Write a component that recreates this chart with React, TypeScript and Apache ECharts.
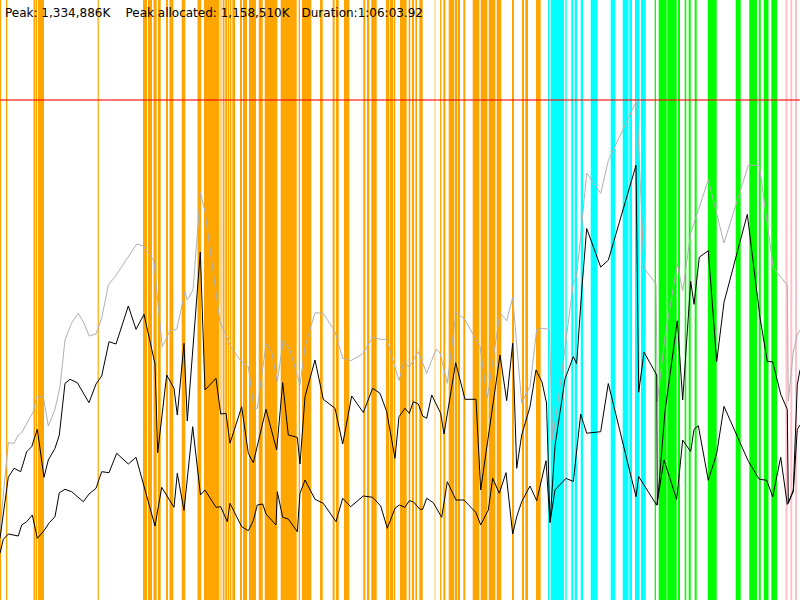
import React, { useEffect, useRef } from "react";
import * as echarts from "echarts";

// x: time units (1 unit = 4.955 s), y: memory units (1 unit = 2,669.77 K)
const X_MAX = 800;
const Y_MAX = 600;
const PEAK_LEVEL = 500;

const headerTexts = [
  "Peak: 1,334,886K",
  "Peak allocated: 1,158,510K",
  "Duration:1:06:03.92",
];

const orangeBands: [number, number][] = [
  [0, 1.2], [6, 7.3], [33.5, 35], [35.5, 37.2], [38, 44], [97.6, 98.8],
  [143, 147], [148, 152], [153.5, 156.7], [158, 160.7], [166, 168], [169.5, 173.3],
  [181.7, 185.3], [197.5, 201.2], [204, 219.3], [220.5, 221.5], [222.7, 224.5],
  [225.2, 227], [227.7, 229.3], [230, 231.3], [232.3, 235], [240, 242], [243, 247],
  [249, 256], [258.7, 262.7], [264.7, 277.3], [280.7, 296.7], [298.7, 300],
  [302, 311.3], [320, 322.7], [332.7, 334.7], [336, 338.7], [344, 349.3],
  [363.3, 365.3], [367, 369.3], [371.3, 376.7], [386, 389], [389.7, 393], [393.7, 395.3],
  [400, 406.7], [408.7, 410.3], [412, 414], [415.3, 417], [419.3, 422.7],
  [434.7, 435.3], [440, 441.3], [443.3, 445.3], [448.7, 454], [454.7, 457], [457.7, 460],
  [463.3, 465.3], [472.7, 479.3], [480.7, 487.3], [488.7, 495.3], [496.7, 501.3],
  [512, 514], [522, 524], [525.3, 528], [536, 540.7],
];

const cyanBands: [number, number][] = [
  [548, 549.3], [550.7, 564], [565.3, 566.7], [571.3, 573.3], [574.7, 577],
  [580.7, 583], [590.7, 597.5], [610.7, 615.3], [622.7, 628.5], [629.3, 632],
  [635, 639.5], [641, 645.7],
];

const greenBands: [number, number][] = [
  [654.7, 656], [658.7, 666.7], [667.3, 676.7], [678, 680], [684.7, 686.3],
  [688.7, 690.7], [694.7, 696.7], [707.8, 716.7], [735.7, 740.7], [749.3, 757],
  [758.8, 760.8], [763.8, 768.5], [771.3, 777],
];

const pinkBands: [number, number][] = [
  [785.5, 787.5], [790.3, 792.3], [795, 797],
];

const heapTotal: [number, number][] = [
  [0, 70], [8.3, 157.3], [14, 156.7], [18.3, 165], [21.7, 167.3], [33.3, 188.3],
  [36.7, 203.3], [43.3, 203.3], [48.3, 174], [55, 190.7], [60, 213.3], [65, 260],
  [71.7, 277.3], [78.3, 286.7], [83.3, 278.3], [89.3, 264], [96, 266], [101.7, 281.7],
  [108.3, 315], [115, 323.3], [136.7, 356], [143.3, 354], [154, 339.3], [158.3, 293.3],
  [162.3, 253.3], [170, 269.3], [176.7, 270.7], [185, 308.3], [187.3, 300], [193, 310],
  [200.5, 407.3], [205, 388.3], [220, 278.3], [230, 255], [240, 240], [248.3, 233.3],
  [254, 191.7], [257.3, 191.7], [266, 256], [271.7, 248.3], [277.3, 218.3], [283.3, 260],
  [290, 250], [300, 215], [305, 253.3], [315, 287.3], [323.3, 286.7], [335, 268.3],
  [342.7, 241.7], [350.7, 239.3], [362.7, 246], [372.7, 262.7], [380.7, 260.7],
  [386.7, 260.7], [399, 219.3], [404, 239], [409.3, 232.7], [418.3, 248.3], [426.7, 226.7],
  [436, 250.7], [440, 247.3], [447.3, 216.7], [456, 287.3], [464, 281.7], [480, 253.3],
  [487.3, 201.7], [500, 287.3], [506.7, 279.3], [512.7, 302.7], [521.7, 197.3],
  [530, 213.3], [536.7, 270.7], [542.7, 271.7], [549.3, 270.7], [552.7, 160],
  [560, 213.3], [573.3, 316.8], [576.7, 324.5], [581.7, 374.2], [586.7, 427],
  [600.7, 406.7], [608.3, 439.3], [636.7, 499.7], [644, 332.1], [656, 316],
  [657.3, 198.2], [665, 263.2], [677.3, 336], [682.7, 309.1], [690.7, 366.6],
  [708.3, 420.1], [724, 357], [748.3, 434.7], [759.3, 434.7], [773.3, 332.1],
  [787.3, 314.9], [788.3, 199], [793.3, 248], [797.3, 265.1], [800, 270],
];

const allocatedUpper: [number, number][] = [
  [0, 61.7], [8.3, 122.7], [14, 131.7], [20.7, 128.3], [26.7, 148.3], [31.7, 153.3],
  [37.3, 170.7], [44, 122.7], [48.3, 140], [55, 151.7], [59.3, 165], [65, 216.7],
  [70, 220.7], [77.3, 217.3], [89, 197.3], [96, 216], [101.7, 224], [109, 258.3],
  [116, 256], [128.3, 294], [136, 270.7], [144, 285.7], [155, 236], [157.7, 147.3],
  [166.7, 225], [174, 211.7], [177.3, 185], [184, 256.7], [187.3, 179], [200.3, 348],
  [205, 210], [216, 221.7], [220.7, 186], [226, 186.7], [230, 156.7], [241.7, 193.3],
  [248.3, 146.7], [253.3, 137.3], [266, 190.7], [276.7, 150], [282.7, 217.3],
  [288.3, 165], [297.3, 162.7], [300, 136], [305, 203.3], [315, 240], [323.3, 200.7],
  [335, 191.7], [342.7, 156], [351.7, 204], [363.3, 187.5], [372.7, 211.7],
  [380, 206.7], [386.7, 188.3], [395, 141.7], [399, 183.3], [405, 191.7], [409.3, 186.7],
  [413.3, 198.3], [418.3, 196], [422.7, 184], [426.7, 181.7], [431.7, 205],
  [440.7, 186.7], [444, 166], [455.7, 237.3], [465, 200.7], [476, 200.7], [480.7, 110],
  [500, 245], [506.7, 199.3], [512.7, 256.7], [516.7, 131.7], [521.7, 165],
  [530, 193.3], [536, 230], [542, 218], [546.5, 197], [550, 77.6], [555, 154.2],
  [565, 221.1], [573.3, 243.3], [576.7, 236.4], [581.7, 309.1], [586.7, 371.5],
  [600.7, 332.9], [608.3, 339.8], [636, 434.7], [638.7, 207.7], [644, 247.9],
  [656.7, 225], [657.3, 95], [665, 188.6], [677.3, 279.3], [682.7, 200], [690.7, 318.7],
  [694, 295.7], [699.3, 342.8], [708.3, 349.3], [716.7, 238.3], [724, 297.7],
  [747.3, 385.7], [760, 282.4], [767.3, 238.3], [772.7, 238.3], [780.7, 205.8],
  [787.3, 190.5], [788.3, 96.7], [793.3, 110], [797.3, 215.4], [800, 230],
];

const liveLower: [number, number][] = [
  [0, 46.7], [3.3, 60.7], [8.3, 66], [18.3, 64], [21.7, 75], [26.7, 78.3], [32.3, 85],
  [37.3, 61.7], [44, 69.3], [49.3, 77.3], [55, 83.3], [59.3, 107.3], [65, 110.7],
  [71.7, 108.3], [83.3, 98.3], [89, 106], [96, 111.7], [101.7, 128.3], [109, 127.3],
  [116.7, 146.7], [128.3, 136], [136, 142.7], [155, 74], [161.7, 112.7], [174, 92.7],
  [177.3, 126.7], [184, 89.5], [192.7, 173.3], [200.5, 105], [205, 110], [216, 92.7],
  [220.7, 93.3], [227.3, 78.3], [230, 96.7], [241.7, 73.3], [248.3, 69.3], [253.3, 79.3],
  [257.3, 95], [262.7, 96], [266, 86], [276, 75], [277.3, 108.3], [282.7, 82.7],
  [288.3, 81], [297.3, 68.3], [300, 106.7], [305, 120], [315, 100.7], [323.3, 96.7],
  [336, 78.3], [342.7, 101.7], [350.7, 93.3], [363.3, 104], [372.7, 102.7], [380.7, 94],
  [387.3, 71.7], [395, 91.7], [399.3, 95], [405, 92.7], [409.3, 99.3], [413.3, 98.3],
  [420, 90.7], [422.7, 90.7], [426.7, 101.7], [433.3, 97.3], [441.7, 82.7],
  [447.3, 118.3], [456, 100], [464, 100], [476, 87.3], [480.7, 75], [488.3, 90],
  [492.7, 121.7], [499.3, 106.7], [506, 127.3], [512.7, 66], [516.7, 83.3],
  [521.7, 98.3], [530, 114], [536.7, 99.3], [546, 139.3], [550, 77.6], [555, 110.1],
  [566, 121.6], [573.3, 118.6], [580.7, 185.9], [586.7, 166.8], [600.7, 168.3],
  [608.3, 216.5], [636, 103.3], [638.7, 123.5], [656.7, 94.8], [664, 140],
  [676.7, 100.6], [682.7, 159.9], [690.7, 148.4], [694, 170.6], [698.3, 174.4],
  [708.3, 119.7], [716.7, 146.5], [724, 193.6], [748.3, 138.8], [759.3, 120.8],
  [766.7, 119.7], [772.7, 103.3], [780.7, 142.7], [787.3, 95.6], [793.3, 108.2],
  [797.3, 170.6], [800, 175],
];

function bandSeries(name: string, data: [number, number][], color: string) {
  return {
    name,
    type: "custom",
    silent: true,
    z: 1,
    encode: { x: [0, 1] },
    data,
    renderItem: (_params: any, api: any) => {
      const p0 = api.coord([api.value(0), Y_MAX]);
      const p1 = api.coord([api.value(1), 0]);
      return {
        type: "rect",
        shape: { x: p0[0], y: p0[1], width: p1[0] - p0[0], height: p1[1] - p0[1] },
        style: { fill: color },
      };
    },
  };
}

function lineSeries(name: string, data: [number, number][], color: string, withPeak = false) {
  const s: any = {
    name,
    type: "line",
    data,
    symbol: "none",
    silent: true,
    z: 5,
    lineStyle: { color, width: 1 },
  };
  if (withPeak) {
    s.markLine = {
      silent: true,
      symbol: "none",
      label: { show: false },
      lineStyle: { color: "rgba(255,0,0,0.55)", width: 2, type: "solid" },
      data: [{ yAxis: PEAK_LEVEL }],
    };
  }
  return s;
}

export default function App() {
  const ref = useRef<HTMLDivElement>(null);
  useEffect(() => {
    if (!ref.current) return;
    const chart = echarts.init(ref.current, null, { renderer: "svg" });
    const textX = [5, 125.5, 301.5];
    chart.setOption({
      animation: false,
      backgroundColor: "#ffffff",
      grid: { left: 0, right: 0, top: 0, bottom: 0 },
      xAxis: { type: "value", min: 0, max: X_MAX, show: false },
      yAxis: { type: "value", min: 0, max: Y_MAX, show: false },
      series: [
        bandSeries("orange", orangeBands, "#FFA500"),
        bandSeries("cyan", cyanBands, "#00FFFF"),
        bandSeries("green", greenBands, "#00FF00"),
        bandSeries("pink", pinkBands, "#FFC0CB"),
        lineSeries("heap", heapTotal, "#b0b0b0", true),
        lineSeries("allocated", allocatedUpper, "#000000"),
        lineSeries("live", liveLower, "#000000"),
      ],
      graphic: headerTexts.map((t, i) => ({
        type: "text",
        x: textX[i],
        y: 13,
        z: 100,
        style: {
          text: t,
          fill: "#000000",
          font: "12px 'DejaVu Sans'",
          verticalAlign: "middle",
        },
      })),
    });
    return () => chart.dispose();
  }, []);
  return (
    <div
      ref={ref}
      style={{ position: "absolute", left: 0, top: 0, width: 800, height: 600 }}
    />
  );
}
